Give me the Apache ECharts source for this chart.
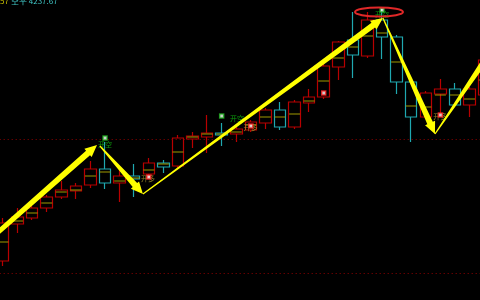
<!DOCTYPE html>
<html><head><meta charset="utf-8">
<script src="https://cdn.jsdelivr.net/npm/echarts@6/dist/echarts.min.js"></script>
<style>html,body{margin:0;padding:0;background:#000;overflow:hidden}#c{width:480px;height:300px}</style>
</head><body><div id="c"></div>
<script>
// ---- data (price units) ----
const categories = Array.from({length: 34}, (_, i) => 'K' + (i + 1));
// [open, close, low, high]
const ohlc = [
  [39, 77, 34, 82], [76, 83, 67, 92], [82, 92, 80, 94], [92, 103, 88, 105],
  [103, 110, 101, 119], [109, 114, 101, 117], [115, 131, 112, 139], [131, 117, 111, 158],
  [117, 124, 98, 133], [124, 121, 103, 136], [126, 137, 122, 142], [137, 133, 127, 140],
  [134, 162, 132, 165], [161, 164, 152, 168], [163, 167, 147, 185], [167, 165, 154, 177],
  [166, 171, 158, 173], [170, 178, 168, 180], [177, 190, 171, 192], [190, 173, 170, 198],
  [173, 198, 171, 200], [197, 203, 188, 211], [203, 234, 201, 236], [233, 258, 220, 259],
  [260, 245, 222, 288], [244, 280, 242, 288], [280, 263, 241, 292], [263, 218, 206, 265],
  [218, 183, 158, 220], [183, 207, 181, 209], [206, 211, 187, 221], [211, 195, 194, 217],
  [195, 211, 183, 213], [205, 240, 200, 245]
];
const midLine = [58, 79, 87, 97, 108, 110, 124, 128, 119, 122, 130, 136, 148, 163, 166, 166,
  168, 175, 183, 183, 186, 199, 219, 242, 253, 264, 267, 238, 194, 193, 205, 205, 201, 220];
const levelLines = [161, 27];
// signal marks: [index, price]
const longDots = [[10, 123], [17, 174], [22, 207], [30, 185]];
const shortDots = [[7, 162], [15, 184], [26, 290]];
const longLabels = [[9.95, 122], [16.98, 173], [30, 184]];
const shortLabels = [[7, 156], [16.05, 182], [26, 286]];
const signalText = {long: '开多', short: '开空'};
// trend arrows: [fromIndex, fromPrice, toIndex, toPrice]
const arrows = [
  [-20.3, -189, 6.45, 155],
  [6.65, 154, 9.60, 106],
  [9.60, 106, 26.06, 282],
  [26.06, 282, 29.63, 166],
  [29.63, 166, 33.54, 250]
];
const topCircle = [[25.79, 288]];
const headerLeft = '57';
const headerRight = '空平 4237.67';

// ---- chart ----
const chart = echarts.init(document.getElementById('c'), null, {renderer: 'canvas'});
const FONT = '"Noto Sans CJK SC", "Noto Sans", sans-serif';
chart.setOption({
  backgroundColor: '#000',
  animation: false,
  grid: {left: -4.3, right: -11.4, top: 0, bottom: 0, containLabel: false, outerBoundsMode: 'none'},
  xAxis: [
    {type: 'category', data: categories, boundaryGap: true, show: false},
    {type: 'value', min: -0.5, max: 33.5, show: false}
  ],
  yAxis: {type: 'value', min: 0, max: 300, show: false, splitLine: {show: false}},
  graphic: [
    {type: 'text', left: 0, top: -3, style: {text: headerLeft, fill: '#c8c000', font: '8px ' + FONT}},
    {type: 'text', left: 11, top: -3, style: {text: headerRight, fill: '#40c8c8', font: '8px ' + FONT}}
  ],
  series: [
    {
      type: 'candlestick', data: ohlc, barWidth: 12, z: 2,
      itemStyle: {color: '#000', color0: '#000', borderColor: '#b80000', borderColor0: '#1fa8b0', borderWidth: 1.2},
      markLine: {
        silent: true, symbol: 'none', label: {show: false},
        lineStyle: {color: '#900000', type: [1, 3], width: 1},
        data: levelLines.map(v => ({yAxis: v}))
      }
    },
    {
      type: 'scatter', data: midLine.map((v, i) => [i, v]), symbol: 'rect', symbolSize: [11, 1.2], z: 3,
      itemStyle: {color: '#a8a000'}
    },
    {
      type: 'scatter', xAxisIndex: 1, data: longLabels, symbolSize: 0, z: 4,
      label: {show: true, position: 'inside', formatter: signalText.long, color: '#b8a030', fontSize: 7, fontFamily: FONT}
    },
    {
      type: 'scatter', xAxisIndex: 1, data: shortLabels, symbolSize: 0, z: 4,
      label: {show: true, position: 'inside', formatter: signalText.short, color: '#10c010', fontSize: 7, fontFamily: FONT}
    },
    {
      type: 'scatter', xAxisIndex: 1, data: longDots, symbol: 'rect', symbolSize: 4, z: 5,
      itemStyle: {color: '#ffffff', borderColor: '#ff2020', borderWidth: 1.5}
    },
    {
      type: 'scatter', xAxisIndex: 1, data: shortDots, symbol: 'rect', symbolSize: 4, z: 5,
      itemStyle: {color: '#ffffff', borderColor: '#20b020', borderWidth: 1.5}
    },
    {
      type: 'custom', xAxisIndex: 1, data: topCircle, z: 6, clip: false,
      renderItem(params, api) {
        const p = api.coord([api.value(0), api.value(1)]);
        return {type: 'ellipse', shape: {cx: p[0], cy: p[1], rx: 24, ry: 4.5},
          style: {fill: 'none', stroke: '#e02828', lineWidth: 2}};
      }
    },
    {
      type: 'custom', xAxisIndex: 1, data: arrows, z: 8, clip: false,
      renderItem(params, api) {
        const a = api.coord([api.value(0), api.value(1)]);
        const b = api.coord([api.value(2), api.value(3)]);
        const dx = b[0] - a[0], dy = b[1] - a[1];
        const len = Math.hypot(dx, dy);
        const ux = dx / len, uy = dy / len, nx = -uy, ny = ux;
        const headLen = 12, headW = 5.5, w0 = 0.6, w1 = 3.0;
        const nk = [b[0] - ux * headLen, b[1] - uy * headLen];
        const pts = [
          [a[0] + nx * w0, a[1] + ny * w0],
          [nk[0] + nx * w1, nk[1] + ny * w1],
          [nk[0] + nx * headW, nk[1] + ny * headW],
          [b[0], b[1]],
          [nk[0] - nx * headW, nk[1] - ny * headW],
          [nk[0] - nx * w1, nk[1] - ny * w1],
          [a[0] - nx * w0, a[1] - ny * w0]
        ];
        return {type: 'polygon', shape: {points: pts}, style: {fill: '#ffff00'}};
      }
    }
  ]
});
</script></body></html>
